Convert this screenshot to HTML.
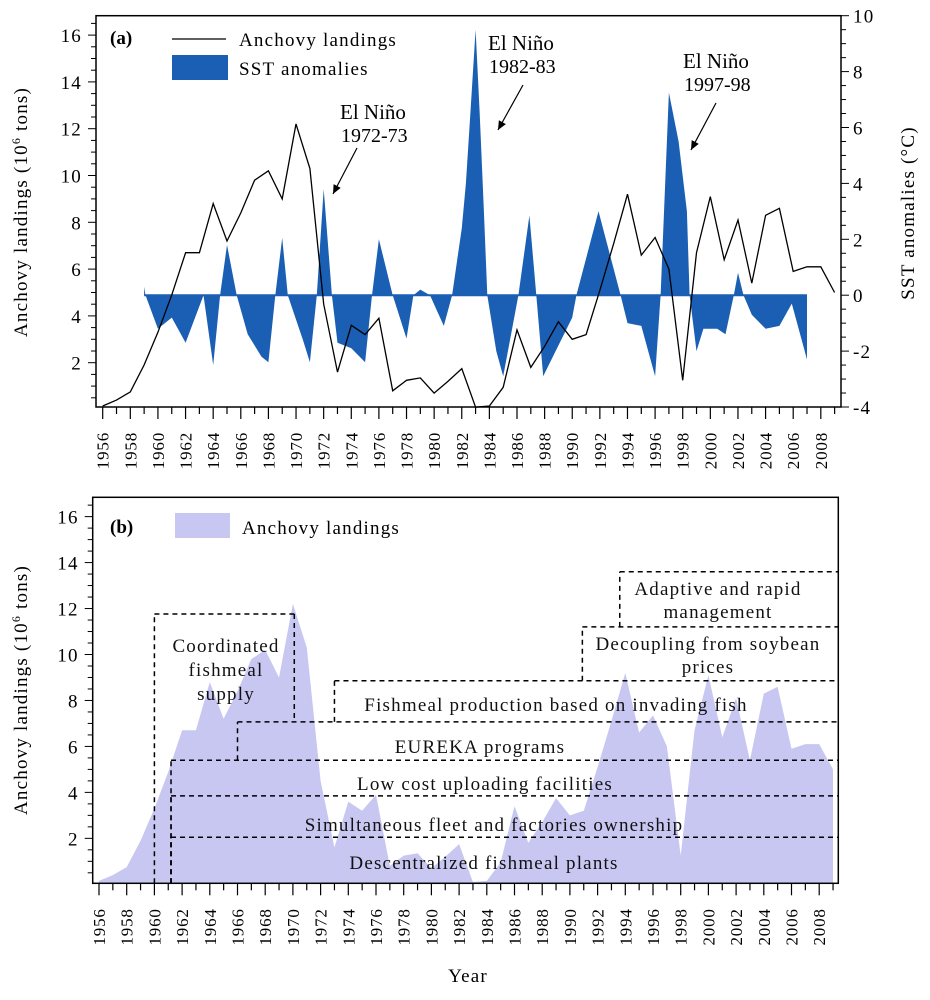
<!DOCTYPE html>
<html><head><meta charset="utf-8">
<style>
html,body{margin:0;padding:0;background:#fff;}
svg{display:block;font-family:"Liberation Serif",serif;}
</style></head>
<body>
<svg id="fig" xmlns="http://www.w3.org/2000/svg" width="930" height="1000" viewBox="0 0 930 1000">
<rect x="0" y="0" width="930" height="1000" fill="#fff"/>
</svg>
<script>
const years = [1956,1957,1958,1959,1960,1961,1962,1963,1964,1965,1966,1967,1968,1969,1970,1971,1972,1973,1974,1975,1976,1977,1978,1979,1980,1981,1982,1983,1984,1985,1986,1987,1988,1989,1990,1991,1992,1993,1994,1995,1996,1997,1998,1999,2000,2001,2002,2003,2004,2005,2006,2007,2008,2009];
const landings = [0.15,0.4,0.75,1.9,3.3,4.9,6.7,6.7,8.8,7.2,8.4,9.8,10.2,9.0,12.2,10.3,4.5,1.6,3.6,3.2,3.9,0.8,1.25,1.35,0.7,1.2,1.75,0.1,0.15,0.95,3.4,1.8,2.7,3.75,3.0,3.2,5.1,7.1,9.2,6.6,7.35,6.0,1.25,6.7,9.1,6.4,8.1,5.4,8.3,8.6,5.9,6.1,6.1,5.0];
const sstYears = [1959,1959.1,1960,1961,1962,1963.3,1964,1964.5,1965,1965.7,1966.5,1967.5,1968,1968.5,1969,1969.4,1970.5,1971,1971.5,1972,1972.6,1973,1974,1975,1975.5,1976,1976.5,1977,1978,1978.5,1979,1979.7,1980.7,1981.3,1982,1982.3,1982.6,1983,1983.3,1983.6,1983.85,1984.5,1985,1986.1,1986.9,1987.4,1987.9,1989,1990,1990.3,1991.9,1993.5,1994,1995,1996,1996.4,1997,1997.7,1998.3,1998.5,1999,1999.5,2000.5,2001.1,2001.7,2002,2002.4,2003,2004,2005,2005.9,2007];
const sstValues = [0.3,0,-1.2,-0.8,-1.7,0,-2.5,0,1.8,0,-1.4,-2.2,-2.4,0,2.05,0,-1.6,-2.4,0,3.8,0,-1.7,-1.9,-2.4,0,2.0,1.0,0,-1.55,0,0.2,0,-1.1,0,2.4,4.0,6.3,9.5,6.5,3.0,0,-2.0,-2.9,0,2.85,0,-2.9,-1.8,-0.8,0,3.0,0,-1.0,-1.1,-2.9,0,7.25,5.5,3.0,0,-2.0,-1.2,-1.2,-1.4,0,0.8,0,-0.7,-1.2,-1.1,-0.3,-2.3];
const leftTicks = [2,4,6,8,10,12,14,16];
const rightTicks = [-4,-2,0,2,4,6,8,10];
const yearTicks = [1956,1958,1960,1962,1964,1966,1968,1970,1972,1974,1976,1978,1980,1982,1984,1986,1988,1990,1992,1994,1996,1998,2000,2002,2004,2006,2008];
const policyNames = ["Coordinated fishmeal supply","Descentralized fishmeal plants","Simultaneous fleet and factories ownership","Low cost uploading facilities","EUREKA programs","Fishmeal production based on invading fish","Decoupling from soybean prices","Adaptive and rapid management"];
const policyStart = [1960,1961.2,1961.2,1961.2,1966,1973,1990.9,1993.6];
const policyLow = [0,0,0,0,5.4,7.07,8.86,11.2];
const policyTop = [11.76,2.05,3.85,5.4,7.07,8.86,11.2,13.6];

const NS = "http://www.w3.org/2000/svg";
const svg = document.getElementById("fig");
function mk(tag, at, parent){const e=document.createElementNS(NS,tag);for(const k in at)e.setAttribute(k,at[k]);(parent||svg).appendChild(e);return e;}
function txt(s, at, parent){const e=mk("text",at,parent);e.textContent=s;return e;}
const TL={"font-size":19,"letter-spacing":1.2};

/* ===== Panel (a) ===== */
const A={L:96,R:841,T:15.7,B:407};
const ax=y=>102.7+(y-1956)*13.81;
const ayL=v=>409.5-v*23.4;
const ayR=s=>295.2-s*27.95;
const gA=mk("g",{});



let d="M"+ax(sstYears[0])+","+ayR(0);
for(let i=0;i<sstYears.length;i++) d+=" L"+ax(sstYears[i]).toFixed(1)+","+ayR(sstValues[i]).toFixed(1);
d+=" L"+ax(sstYears[sstYears.length-1])+","+ayR(0)+" Z";
const sst=mk("path",{d:d,fill:"#1a5fb4",stroke:"none"},gA);


const zl=mk("line",{x1:ax(sstYears[0]),x2:ax(sstYears[sstYears.length-1]),y1:ayR(0),y2:ayR(0),stroke:"#1a5fb4","stroke-width":2},gA);



const lp=mk("polyline",{points:years.map((y,i)=>ax(y).toFixed(1)+","+ayL(landings[i]).toFixed(1)).join(" "),fill:"none",stroke:"#000","stroke-width":1.3},gA);



const frA=mk("rect",{x:A.L,y:A.T,width:A.R-A.L,height:A.B-A.T,fill:"none",stroke:"#000","stroke-width":1.5},gA);



for(let v=0.5;v<=16.5;v+=0.5){const y=ayL(v);const maj=Math.abs(v-Math.round(v/2)*2)<0.01;mk("line",{x1:A.L,x2:A.L-(maj?8:5),y1:y,y2:y,stroke:"#000","stroke-width":1},gA);}
leftTicks.forEach(v=>{const t=txt(String(v),Object.assign({x:A.L-14,y:ayL(v)+7,"text-anchor":"end"},TL),gA);

});
for(let s=-4;s<=10;s+=0.5){const y=ayR(s);const maj=Math.abs(s-Math.round(s/2)*2)<0.01;mk("line",{x1:A.R,x2:A.R+(maj?8:5),y1:y,y2:y,stroke:"#000","stroke-width":1},gA);}
rightTicks.forEach(s=>{const t=txt(String(s),Object.assign({x:A.R+12,y:ayR(s)+7},TL),gA);

});
for(let y=1956;y<=2009;y++){const maj=y%2===0;mk("line",{x1:ax(y),x2:ax(y),y1:A.B,y2:A.B+(maj?12:7),stroke:"#000","stroke-width":1.2},gA);}
yearTicks.forEach(y=>{const t=txt(String(y),{transform:"translate("+(ax(y)+6)+","+(A.B+25)+") rotate(-90)","text-anchor":"end","font-size":17,"letter-spacing":0.8},gA);

});

const yta=txt("",Object.assign({transform:"translate(27,212) rotate(-90)","text-anchor":"middle"},TL),gA);


yta.innerHTML='Anchovy landings (10<tspan dy="-7" font-size="12">6</tspan><tspan dy="7"> tons)</tspan>';
const ytr=txt("SST anomalies (°C)",Object.assign({transform:"translate(914,213) rotate(-90)","text-anchor":"middle"},TL),gA);



const la=txt("(a)",{x:110,y:44,"font-size":19,"font-weight":"bold"},gA);


const lg1=mk("line",{x1:172,x2:226,y1:39,y2:39,stroke:"#000","stroke-width":1.3},gA);


const lt1=txt("Anchovy landings",Object.assign({x:239,y:46},TL),gA);


const lg2=mk("rect",{x:172,y:55,width:56,height:25,fill:"#1a5fb4"},gA);


const lt2=txt("SST anomalies",Object.assign({x:239,y:75},TL),gA);



const ann=[["1972-73",340,119,357,148,333,194],["1982-83",488,50,523,85,498,130],["1997-98",683,68,716,103,691,150]];
ann.forEach(a=>{
 const t1=txt("El Niño",{x:a[1],y:a[2],"font-size":21},gA);
 
 
 const t2=txt(a[0],{x:a[1]+1,y:a[2]+23,"font-size":20},gA);
 
 
 const ar=mk("line",{x1:a[3],y1:a[4],x2:a[5],y2:a[6],stroke:"#000","stroke-width":1.2},gA);
 
 
 const ang=Math.atan2(a[6]-a[4],a[5]-a[3]);const L=9,W=4;
 const hx=a[5]-L*Math.cos(ang),hy=a[6]-L*Math.sin(ang);
 mk("polygon",{points:a[5]+","+a[6]+" "+(hx-W*Math.sin(ang))+","+(hy+W*Math.cos(ang))+" "+(hx+W*Math.sin(ang))+","+(hy-W*Math.cos(ang)),fill:"#000"},gA);
});

/* ===== Panel (b) ===== */
const B={L:92.7,R:838.3,T:497.3,B:883.3};
const bx=y=>99+(y-1956)*13.85;
const by=v=>884.3-v*22.98;
const gB=mk("g",{});


let d2="M"+bx(years[0])+","+B.B;
years.forEach((y,i)=>{d2+=" L"+bx(y).toFixed(1)+","+Math.min(B.B,by(landings[i])).toFixed(1);});
d2+=" L"+bx(years[years.length-1])+","+B.B+" Z";
const area=mk("path",{d:d2,fill:"#c7c7f2",stroke:"none"},gB);



const dash={stroke:"#000","stroke-width":1.5,"stroke-dasharray":"5,4",fill:"none"};
policyNames.forEach((n,i)=>{
 const x0=bx(policyStart[i]);
 const g=mk("g",{},gB);
 
 
 mk("line",Object.assign({x1:x0,x2:x0,y1:Math.min(B.B,by(policyLow[i])),y2:by(policyTop[i])},dash),g);
 const xe = i===0 ? bx(1970.1) : B.R;
 mk("line",Object.assign({x1:x0,x2:xe,y1:by(policyTop[i]),y2:by(policyTop[i])},dash),g);
 if(i===0) mk("line",Object.assign({x1:xe,x2:xe,y1:by(policyTop[i]),y2:by(7.07)},dash),g);
});
const labs=[["Coordinated",226,652],["fishmeal",226,676],["supply",226,700],
 ["Descentralized fishmeal plants",484,869],["Simultaneous fleet and factories ownership",494,831],
 ["Low cost uploading facilities",485,790],["EUREKA programs",480,753],
 ["Fishmeal production based on invading fish",556,711],["Decoupling from soybean",708,650],
 ["prices",708,673],["Adaptive and rapid",718,595],["management",718,618]];
labs.forEach(l=>{const t=txt(l[0],Object.assign({x:l[1],y:l[2],"text-anchor":"middle",fill:"#111"},TL),gB);

});

const frB=mk("rect",{x:B.L,y:B.T,width:B.R-B.L,height:B.B-B.T,fill:"none",stroke:"#000","stroke-width":1.5},gB);


for(let v=0.5;v<=16.5;v+=0.5){const y=by(v);const maj=Math.abs(v-Math.round(v/2)*2)<0.01;mk("line",{x1:B.L,x2:B.L-(maj?8:5),y1:y,y2:y,stroke:"#000","stroke-width":1},gB);}
leftTicks.forEach(v=>{const t=txt(String(v),Object.assign({x:B.L-14,y:by(v)+7,"text-anchor":"end"},TL),gB);

});
for(let y=1956;y<=2009;y++){const maj=y%2===0;mk("line",{x1:bx(y),x2:bx(y),y1:B.B,y2:B.B+(maj?12:7),stroke:"#000","stroke-width":1.2},gB);}
yearTicks.forEach(y=>{const t=txt(String(y),{transform:"translate("+(bx(y)+6)+","+(B.B+25)+") rotate(-90)","text-anchor":"end","font-size":17,"letter-spacing":0.8},gB);

});
const ytb=txt("",Object.assign({transform:"translate(27,690) rotate(-90)","text-anchor":"middle"},TL),gB);


ytb.innerHTML='Anchovy landings (10<tspan dy="-7" font-size="12">6</tspan><tspan dy="7"> tons)</tspan>';
const xt=txt("Year",Object.assign({x:468,y:982,"text-anchor":"middle"},TL),gB);


const lb=txt("(b)",{x:110,y:533,"font-size":19,"font-weight":"bold"},gB);


const lsw=mk("rect",{x:175,y:513,width:55,height:25,fill:"#c7c7f2"},gB);


const ltb=txt("Anchovy landings",Object.assign({x:242,y:534},TL),gB);


</script>
</body></html>
